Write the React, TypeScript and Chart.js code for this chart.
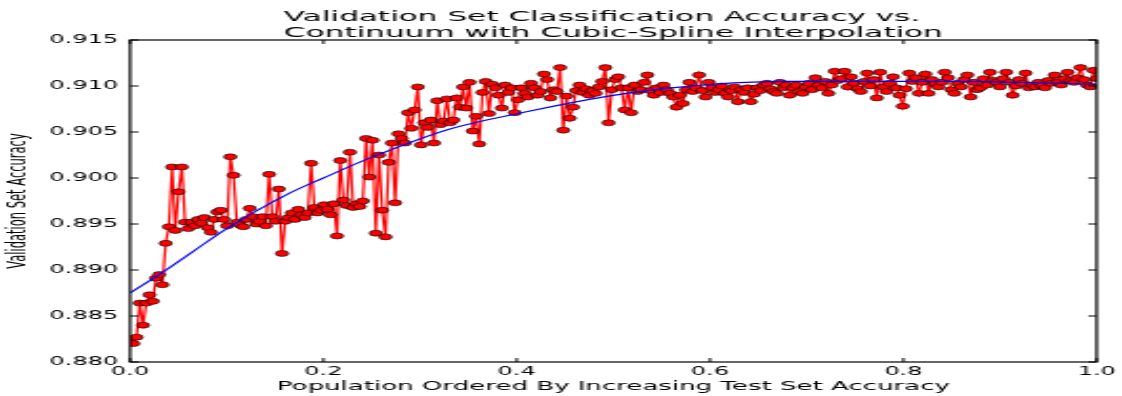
import React, { useEffect, useRef } from "react";
import { Chart, registerables } from "chart.js";

Chart.register(...registerables);

const titleLines = [
  "Validation Set Classification Accuracy vs.",
  "Continuum with Cubic-Spline Interpolation",
];
const xAxisLabel = "Population Ordered By Increasing Test Set Accuracy";
const yAxisLabel = "Validation Set Accuracy";
const xTickValues = [0, 0.2, 0.4, 0.6, 0.8, 1.0];
const yTickValues = [0.88, 0.885, 0.89, 0.895, 0.9, 0.905, 0.91, 0.915];

const accuracy = [
  0.8822, 0.8820, 0.8827, 0.8864, 0.8840, 0.8864, 0.8873, 0.8866, 0.8891, 0.8895,
  0.8884, 0.8929, 0.8947, 0.9012, 0.8943, 0.8985, 0.9012, 0.8952, 0.8945, 0.8952,
  0.8948, 0.8955, 0.8951, 0.8957, 0.8946, 0.8941, 0.8955, 0.8963, 0.8965, 0.8955,
  0.8948, 0.9023, 0.9003, 0.8952, 0.8949, 0.8947, 0.8955, 0.8967, 0.8958, 0.8950,
  0.8953, 0.8958, 0.8948, 0.9004, 0.8958, 0.8953, 0.8988, 0.8918, 0.8953, 0.8957,
  0.8962, 0.8955, 0.8966, 0.8960, 0.8957, 0.8962, 0.9016, 0.8968, 0.8962, 0.8965,
  0.8971, 0.8966, 0.8960, 0.8972, 0.8937, 0.9019, 0.8976, 0.8970, 0.9028, 0.8968,
  0.8972, 0.8969, 0.8975, 0.9043, 0.9001, 0.9041, 0.8940, 0.9025, 0.8965, 0.8936,
  0.9017, 0.9038, 0.8973, 0.9048, 0.9043, 0.9038, 0.9071, 0.9054, 0.9074, 0.9099,
  0.9036, 0.9060, 0.9055, 0.9063, 0.9038, 0.9084, 0.9058, 0.9062, 0.9086, 0.9060,
  0.9063, 0.9087, 0.9077, 0.9099, 0.9076, 0.9104, 0.9051, 0.9067, 0.9037, 0.9093,
  0.9105, 0.9070, 0.9102, 0.9098, 0.9090, 0.9076, 0.9101, 0.9093, 0.9098, 0.9071,
  0.9085, 0.9098, 0.9092, 0.9088, 0.9103, 0.9098, 0.9090, 0.9094, 0.9113, 0.9107,
  0.9087, 0.9096, 0.9094, 0.9120, 0.9052, 0.9089, 0.9065, 0.9077, 0.9095, 0.9101,
  0.9093, 0.9097, 0.9090, 0.9095, 0.9092, 0.9099, 0.9105, 0.9120, 0.9060, 0.9096,
  0.9107, 0.9110, 0.9098, 0.9074, 0.9098, 0.9071, 0.9101, 0.9094, 0.9096, 0.9104,
  0.9112, 0.9095, 0.9090, 0.9098, 0.9093, 0.9101, 0.9096, 0.9092, 0.9088, 0.9077,
  0.9090, 0.9081, 0.9096, 0.9104, 0.9094, 0.9098, 0.9112, 0.9095, 0.9088, 0.9104,
  0.9098, 0.9093, 0.9096, 0.9100, 0.9092, 0.9088, 0.9095, 0.9099, 0.9083, 0.9096,
  0.9093, 0.9098, 0.9083, 0.9091, 0.9098, 0.9095, 0.9101, 0.9103, 0.9097, 0.9094,
  0.9092, 0.9104, 0.9098, 0.9101, 0.9090, 0.9098, 0.9101, 0.9094, 0.9092, 0.9099,
  0.9103, 0.9096, 0.9109, 0.9101, 0.9098, 0.9105, 0.9092, 0.9101, 0.9116, 0.9106,
  0.9108, 0.9116, 0.9099, 0.9110, 0.9103, 0.9097, 0.9094, 0.9105, 0.9114, 0.9100,
  0.9107, 0.9087, 0.9115, 0.9099, 0.9094, 0.9103, 0.9110, 0.9098, 0.9090, 0.9078,
  0.9097, 0.9114, 0.9105, 0.9109, 0.9092, 0.9104, 0.9113, 0.9092, 0.9107, 0.9102,
  0.9099, 0.9104, 0.9115, 0.9109, 0.9096, 0.9092, 0.9103, 0.9099, 0.9107, 0.9112,
  0.9088, 0.9104, 0.9096, 0.9098, 0.9108, 0.9101, 0.9115, 0.9106, 0.9104, 0.9099,
  0.9108, 0.9115, 0.9104, 0.9090, 0.9100, 0.9107, 0.9103, 0.9114, 0.9098, 0.9101,
  0.9099, 0.9104, 0.9100, 0.9098, 0.9106, 0.9103, 0.9112, 0.9104, 0.9101, 0.9108,
  0.9115, 0.9106, 0.9104, 0.9109, 0.9120, 0.9107, 0.9101, 0.9099, 0.9117, 0.9108,
];

const splineX = [0, 0.03, 0.065, 0.1, 0.164, 0.2, 0.244, 0.33, 0.41, 0.495, 0.56, 0.675, 0.85, 1.0];
const splineY = [0.8875, 0.8895, 0.892, 0.8945, 0.8983, 0.9, 0.902, 0.9053, 0.9072, 0.9089, 0.9098, 0.9105, 0.9105, 0.9102];

// layout (display pixels are stretched horizontally from the canvas)
const VIEW_W = 1122;
const VIEW_H = 396;
const STRETCH = 2.1;
const CANVAS_W = Math.round(VIEW_W / STRETCH);
const PLOT_LEFT = 130 / STRETCH;
const PLOT_RIGHT = 1099 / STRETCH;
const PLOT_TOP = 40;
const PLOT_BOTTOM = 362;
const FONT = '"DejaVu Sans", "Bitstream Vera Sans", sans-serif';

export default function App() {
  const ref = useRef<HTMLCanvasElement>(null);

  useEffect(() => {
    const canvas = ref.current;
    if (!canvas) return;

    const mplPlugin = {
      id: "mplFrame",
      afterDraw(chart: any) {
        const { ctx, chartArea: a, scales } = chart;
        const xs = scales.x;
        const ys = scales.y;
        ctx.save();
        ctx.strokeStyle = "#000";
        ctx.lineWidth = 1.2;
        ctx.strokeRect(a.left, a.top, a.right - a.left, a.bottom - a.top);
        ctx.lineWidth = 1;
        ctx.beginPath();
        const tl = 4;
        const th = 4;
        for (const v of xTickValues) {
          const px = xs.getPixelForValue(v);
          ctx.moveTo(px, a.bottom);
          ctx.lineTo(px, a.bottom - tl);
          ctx.moveTo(px, a.top);
          ctx.lineTo(px, a.top + tl);
        }
        for (const v of yTickValues) {
          const py = ys.getPixelForValue(v);
          ctx.moveTo(a.left, py);
          ctx.lineTo(a.left + th, py);
          ctx.moveTo(a.right, py);
          ctx.lineTo(a.right - th, py);
        }
        ctx.stroke();

        ctx.fillStyle = "#000";
        const cx = (a.left + a.right) / 2;
        // title: block centred over the axes, lines left-aligned
        ctx.font = `14.8px ${FONT}`;
        ctx.textBaseline = "alphabetic";
        ctx.textAlign = "left";
        const w = Math.max(...titleLines.map((t) => ctx.measureText(t).width));
        const tx = cx - w / 2;
        ctx.fillText(titleLines[0], tx, 20.5);
        ctx.fillText(titleLines[1], tx, 36.5);

        ctx.textAlign = "center";
        ctx.textBaseline = "middle";
        ctx.font = `12.4px ${FONT}`;
        ctx.fillText(xAxisLabel, cx, 387);
        ctx.save();
        ctx.translate(18 / STRETCH, (a.top + a.bottom) / 2);
        ctx.rotate(-Math.PI / 2);
        ctx.font = `11.5px ${FONT}`;
        ctx.fillText(yAxisLabel, 0, 0);
        ctx.restore();
        ctx.restore();
      },
    };

    const chart = new Chart(canvas, {
      type: "scatter",
      data: {
        datasets: [
          {
            label: "Cubic spline",
            data: splineX.map((x, i) => ({ x, y: splineY[i] })),
            showLine: true,
            borderColor: "#0000ff",
            borderWidth: 1.1,
            pointRadius: 0,
            cubicInterpolationMode: "monotone",
            clip: 0,
          },
          {
            label: "Accuracy",
            data: accuracy.map((y, i) => ({ x: i / (accuracy.length - 1), y })),
            showLine: true,
            borderColor: "#ff0000",
            borderWidth: 1.2,
            pointRadius: 3,
            pointBackgroundColor: "#ff0000",
            pointBorderColor: "#000000",
            pointBorderWidth: 0.6,
            clip: 0,
          },
        ],
      },
      options: {
        responsive: false,
        animation: false,
        devicePixelRatio: 1,
        layout: { padding: { top: PLOT_TOP, right: CANVAS_W - PLOT_RIGHT, bottom: 0, left: 0 } },
        plugins: {
          legend: { display: false },
          tooltip: { enabled: false },
          title: { display: false },
        },
        scales: {
          x: {
            type: "linear",
            min: 0,
            max: 1,
            afterBuildTicks: (s: any) => {
              s.ticks = xTickValues.map((v) => ({ value: v }));
            },
            afterFit: (s: any) => {
              s.height = VIEW_H - PLOT_BOTTOM;
            },
            grid: { display: false, drawTicks: false },
            border: { display: false },
            ticks: {
              color: "#000",
              padding: 3,
              maxRotation: 0,
              font: { family: FONT, size: 11.4 },
              callback: (v: any) => Number(v).toFixed(1),
            },
          },
          y: {
            type: "linear",
            min: 0.88,
            max: 0.915,
            afterBuildTicks: (s: any) => {
              s.ticks = yTickValues.map((v) => ({ value: v }));
            },
            afterFit: (s: any) => {
              s.width = PLOT_LEFT;
            },
            grid: { display: false, drawTicks: false },
            border: { display: false },
            ticks: {
              color: "#000",
              padding: 5.7,
              font: { family: FONT, size: 11.4 },
              callback: (v: any) => Number(v).toFixed(3),
            },
          },
        },
      },
      plugins: [mplPlugin],
    } as any);

    return () => chart.destroy();
  }, []);

  return (
    <div
      style={{
        position: "fixed",
        left: 0,
        top: 0,
        width: VIEW_W,
        height: VIEW_H,
        background: "#fff",
      }}
    >
      <canvas
        ref={ref}
        width={CANVAS_W}
        height={VIEW_H}
        style={{ width: `${VIEW_W}px`, height: `${VIEW_H}px`, display: "block" }}
      />
    </div>
  );
}
